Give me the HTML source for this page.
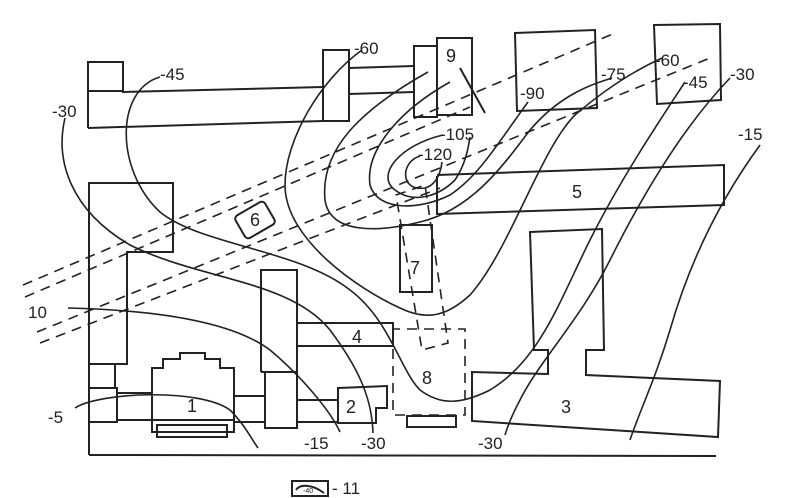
<!DOCTYPE html>
<html><head><meta charset="utf-8"><style>
html,body{margin:0;padding:0;background:#fff}
svg{display:block}
text{font-family:"Liberation Sans",sans-serif;fill:#222}
</style></head><body>
<svg width="809" height="498" viewBox="0 0 809 498" xmlns="http://www.w3.org/2000/svg">
<g fill="none" stroke="#222" stroke-width="2" stroke-linejoin="miter">
<!-- top-left building -->
<polyline points="123,91 88,91 88,62 123,62 123,92 323,87"/>
<line x1="88" y1="62" x2="88" y2="128"/>
<line x1="88" y1="128" x2="323" y2="121"/>
<rect x="323" y="50" width="26" height="71"/>
<line x1="349" y1="68" x2="414" y2="66"/>
<line x1="349" y1="94" x2="414" y2="92"/>
<rect x="414" y="46" width="23" height="71"/>
<rect x="437" y="38" width="35" height="77"/>
<line x1="460" y1="68" x2="485" y2="113"/>
<polygon points="515,33 595,30 597,108 517,111"/>
<polygon points="654,25 720,24 721,100 657,104"/>
<!-- building 5 -->
<polyline points="437,175 724,165 724,205 437,214 437,176"/>
<line x1="437" y1="176" x2="437" y2="214"/>
<!-- left side -->
<polyline points="89,455 89,183 173,183 173,252 127,252 127,364 89,364"/>
<polyline points="115,364 115,388"/>
<rect x="89" y="388" width="28" height="34"/>
<line x1="117" y1="393" x2="152" y2="393"/>
<line x1="117" y1="420" x2="152" y2="420"/>
<!-- building 1 -->
<polygon points="152,368 163,368 163,359 180,359 180,353 205,353 205,359 220,359 220,368 234,368 234,420 152,420"/>
<rect x="152" y="420" width="82" height="12"/>
<rect x="157" y="425" width="70" height="12"/>
<line x1="234" y1="396" x2="265" y2="396"/>
<line x1="234" y1="422" x2="265" y2="422"/>
<!-- tall block -->
<polyline points="261,372 261,270 297,270 297,428 265,428 265,372 261,372 268,372"/>
<line x1="268" y1="372" x2="297" y2="372"/>
<line x1="297" y1="400" x2="338" y2="400"/>
<line x1="297" y1="422" x2="338" y2="422"/>
<!-- building 4 -->
<polyline points="297,323 393,323 393,346 297,346"/>
<!-- building 2 -->
<polygon points="338,388 387,386 387,408 376,408 376,423 338,423"/>
<!-- building 7 -->
<rect x="400" y="225" width="32" height="67"/>
<rect x="407" y="416" width="49" height="11"/>
<!-- building 3 -->
<polygon points="530,232 602,229 604,350 586,350 586,375 720,381 718,437 472,421 472,372 548,374 548,350 534,350"/>
<!-- bottom frame -->
<line x1="89" y1="455" x2="716" y2="456"/>
<!-- building 6 -->
<g transform="translate(255,220) rotate(-30)">
<rect x="-17" y="-13" width="34" height="26" rx="4"/>
</g>
<!-- legend -->
<rect x="292" y="481" width="36" height="15"/>
<path d="M296,490 C300,484 312,484 324,493"/>
</g>
<!-- dashed -->
<g fill="none" stroke="#222" stroke-width="1.6" stroke-dasharray="10,7">
<line x1="23" y1="285" x2="615" y2="33"/>
<line x1="25" y1="297" x2="470" y2="107"/>
<line x1="37" y1="332" x2="710" y2="58"/>
<line x1="40" y1="343" x2="440" y2="188"/>
<polygon points="396,195 425,185 448,343 422,350"/>
<polyline points="393,332 393,415 465,415 465,329 393,329"/>
</g>
<!-- contours -->
<g fill="none" stroke="#222" stroke-width="1.6">
<path d="M362,50 C320,80 285,140 285,185 C285,240 360,290 400,308 C425,320 445,318 470,295 C510,250 540,150 575,115 C610,85 640,68 662,58"/>
<path d="M428,72 C360,110 320,150 325,200 C330,235 380,232 420,222 C470,210 500,170 530,130 C560,95 590,85 612,78"/>
<path d="M450,82 C400,110 365,150 370,185 C378,212 420,210 450,195 C480,175 500,140 528,102"/>
<path d="M443,135 C400,145 375,175 395,190 C415,205 440,195 455,180 C465,165 468,150 470,137"/>
<path d="M420,156 C400,162 400,192 425,188 C433,186 440,178 442,162"/>
<path d="M160,77 C115,90 115,170 160,212 C200,245 300,250 350,290 C390,320 400,370 420,390 C440,405 460,405 490,390 C540,360 560,300 590,240 C620,180 660,120 685,82"/>
<path d="M65,118 C55,160 70,210 130,245 C200,280 290,280 330,330 C360,370 372,400 373,433"/>
<path d="M68,308 C150,310 230,320 270,350 C300,375 330,410 340,432"/>
<path d="M75,408 C100,392 200,388 230,410 C245,425 252,440 258,448"/>
<path d="M730,78 C680,130 640,200 610,260 C580,320 540,360 520,400 C512,415 508,425 505,435"/>
<path d="M760,145 C720,200 690,260 670,330 C655,380 640,410 630,440"/>
</g>
<g font-size="17">
<text x="354" y="54">-60</text>
<text x="160" y="80">-45</text>
<text x="52" y="117">-30</text>
<text x="446" y="62" font-size="18">9</text>
<text x="520" y="99">-90</text>
<text x="601" y="80">-75</text>
<text x="655" y="66">-60</text>
<text x="683" y="88">-45</text>
<text x="730" y="80">-30</text>
<text x="738" y="140">-15</text>
<text x="440" y="140">-105</text>
<text x="418" y="160">-120</text>
<text x="572" y="198" font-size="18">5</text>
<text x="250" y="226" font-size="18">6</text>
<text x="410" y="274" font-size="18">7</text>
<text x="352" y="343" font-size="18">4</text>
<text x="422" y="384" font-size="18">8</text>
<text x="187" y="412" font-size="18">1</text>
<text x="346" y="413" font-size="18">2</text>
<text x="561" y="413" font-size="18">3</text>
<text x="28" y="318">10</text>
<text x="48" y="423">-5</text>
<text x="304" y="449">-15</text>
<text x="361" y="449">-30</text>
<text x="478" y="449">-30</text>
<text x="332" y="494">- 11</text>
<text x="303" y="493" font-size="7">-40</text>
</g>
</svg>
</body></html>
